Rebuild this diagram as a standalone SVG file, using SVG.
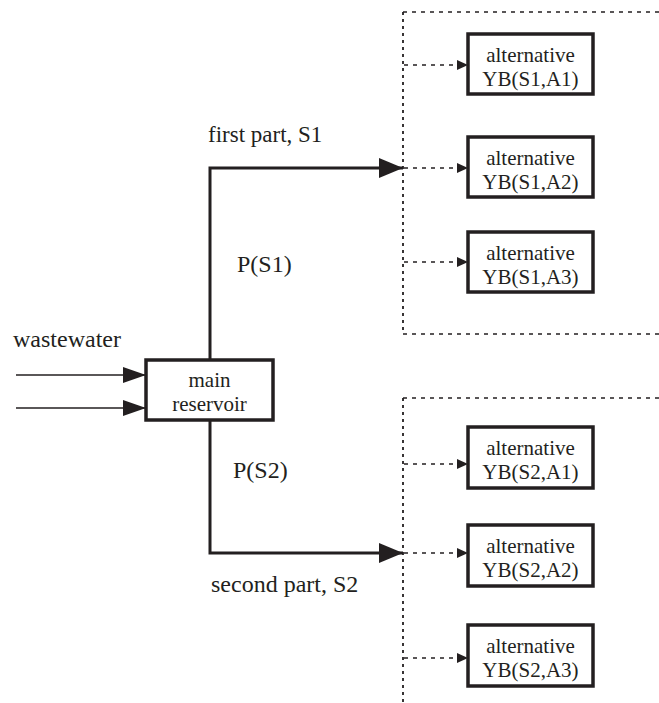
<svg xmlns="http://www.w3.org/2000/svg" width="659" height="703" viewBox="0 0 659 703">
<style>
text{font-family:"Liberation Serif","Times New Roman",serif;fill:#231f20}
.lbl{font-size:24px}
.bt{font-size:21px;text-anchor:middle}
.box{fill:#fff;stroke:#231f20;stroke-width:3.5}
.thick{fill:none;stroke:#231f20;stroke-width:3}
.thin{fill:none;stroke:#231f20;stroke-width:1.5}
.dot{fill:none;stroke:#231f20;stroke-width:1.5;stroke-dasharray:4 5}
.dotv{fill:none;stroke:#231f20;stroke-width:1.8;stroke-dasharray:3 4}
</style>
<defs>
<marker id="big" markerUnits="userSpaceOnUse" markerWidth="24" markerHeight="20" refX="24" refY="10" orient="auto"><path d="M0,0 L24,10 L0,20 z" fill="#231f20"/></marker>
<marker id="mid" markerUnits="userSpaceOnUse" markerWidth="23" markerHeight="16" refX="23" refY="8" orient="auto"><path d="M0,0 L23,8 L0,16 z" fill="#231f20"/></marker>
<marker id="small" markerUnits="userSpaceOnUse" markerWidth="11" markerHeight="10" refX="11" refY="5" orient="auto"><path d="M0,0 L11,5 L0,10 z" fill="#231f20"/></marker>
</defs>
<rect width="659" height="703" fill="#fff"/>
<g id="frames">
<path class="dot" d="M403,12 H659 M403,334 H659 M403,398 H659"/>
<path class="dotv" d="M403,12 V334 M403,398 V703"/>
</g>
<g id="connectors">
<path class="thick" d="M210,360 V168 H403" marker-end="url(#big)"/>
<path class="thick" d="M210,420 V553 H403" marker-end="url(#big)"/>
<path class="thin" d="M16,375 H146" marker-end="url(#mid)"/>
<path class="thin" d="M16,408 H146" marker-end="url(#mid)"/>
<path class="dot" d="M404,65 H468" marker-end="url(#small)"/>
<path class="dot" d="M404,168 H468" marker-end="url(#small)"/>
<path class="dot" d="M404,262 H468" marker-end="url(#small)"/>
<path class="dot" d="M404,464 H468" marker-end="url(#small)"/>
<path class="dot" d="M404,553 H468" marker-end="url(#small)"/>
<path class="dot" d="M404,658 H468" marker-end="url(#small)"/>
</g>
<g id="labels">
<text class="lbl" x="208" y="142" style="font-size:23px">first part, S1</text>
<text class="lbl" x="237" y="272">P(S1)</text>
<text class="lbl" x="13" y="347">wastewater</text>
<text class="lbl" x="233" y="478">P(S2)</text>
<text class="lbl" x="211" y="592">second part, S2</text>
</g>
<g id="main_reservoir">
<rect class="box" x="146" y="360" width="127" height="60"/>
<text class="bt" x="209.5" y="387">main</text>
<text class="bt" x="209.5" y="411">reservoir</text>
</g>
<g id="S1A1">
<rect class="box" x="468" y="34" width="125" height="60"/>
<text class="bt" x="530.5" y="62">alternative</text>
<text class="bt" x="530.5" y="86">YB(S1,A1)</text>
</g>
<g id="S1A2">
<rect class="box" x="468" y="137" width="125" height="60"/>
<text class="bt" x="530.5" y="165">alternative</text>
<text class="bt" x="530.5" y="189">YB(S1,A2)</text>
</g>
<g id="S1A3">
<rect class="box" x="468" y="232" width="125" height="60"/>
<text class="bt" x="530.5" y="260">alternative</text>
<text class="bt" x="530.5" y="284">YB(S1,A3)</text>
</g>
<g id="S2A1">
<rect class="box" x="468" y="427" width="125" height="61"/>
<text class="bt" x="530.5" y="455">alternative</text>
<text class="bt" x="530.5" y="479">YB(S2,A1)</text>
</g>
<g id="S2A2">
<rect class="box" x="468" y="525" width="125" height="61"/>
<text class="bt" x="530.5" y="553">alternative</text>
<text class="bt" x="530.5" y="577">YB(S2,A2)</text>
</g>
<g id="S2A3">
<rect class="box" x="468" y="625" width="125" height="61"/>
<text class="bt" x="530.5" y="653">alternative</text>
<text class="bt" x="530.5" y="677">YB(S2,A3)</text>
</g>
</svg>
